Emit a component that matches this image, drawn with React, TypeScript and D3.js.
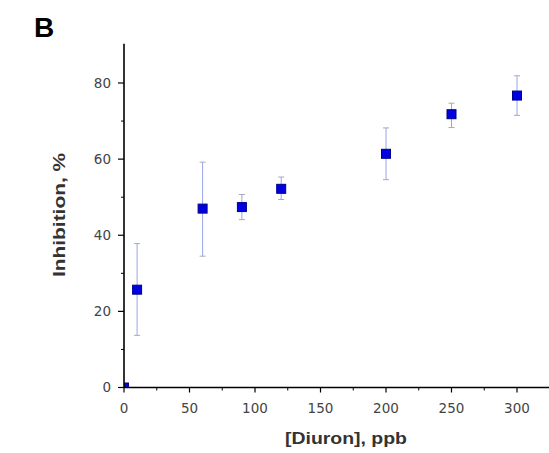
import React from "react";
import * as d3 from "d3";

const concentrations = [0, 10, 60, 90, 120, 200, 250, 300];
const inhibition = [0, 25.7, 47.0, 47.4, 52.2, 61.4, 71.8, 76.7];
const errLow = [0, 13.7, 34.5, 44.1, 49.4, 54.6, 68.3, 71.5];
const errHigh = [0, 37.8, 59.2, 50.7, 55.3, 68.2, 74.7, 81.9];
const xMajorTicks = [0, 50, 100, 150, 200, 250, 300];
const xMinorTicks = [25, 75, 125, 175, 225, 275, 325];
const yMajorTicks = [0, 20, 40, 60, 80];
const yMinorTicks = [10, 30, 50, 70];

const W = 549;
const H = 453;

export default function App() {
  const x = d3.scaleLinear().domain([0, 300]).range([124, 517]);
  const y = d3.scaleLinear().domain([0, 80]).range([387.5, 83]);
  const yTop = y(90.3);
  const font = "Arial, 'Liberation Sans', sans-serif";
  const tickFont = "'DejaVu Sans', Verdana, sans-serif";

  return (
    <svg
      width={W}
      height={H}
      style={{ position: "absolute", left: 0, top: 0, background: "#fff" }}
      fontFamily={font}
    >
      <defs>
        <clipPath id="plotClip">
          <rect x={124} y={0} width={W - 124} height={y(0)} />
        </clipPath>
      </defs>
      <rect width={W} height={H} fill="#fff" />
      <text x={34} y={37} fontSize={28} fontWeight="bold" fill="#000">
        B
      </text>

      {/* error bars */}
      {concentrations.map((c, i) =>
        i === 0 ? null : (
          <g key={"e" + i}>
            <line x1={x(c)} x2={x(c)} y1={y(errLow[i])} y2={y(errHigh[i])} stroke="#9aa4e6" strokeWidth={1} />
            <line x1={x(c) - 3} x2={x(c) + 3} y1={y(errLow[i])} y2={y(errLow[i])} stroke="#a8a8b8" strokeWidth={1} />
            <line x1={x(c) - 3} x2={x(c) + 3} y1={y(errHigh[i])} y2={y(errHigh[i])} stroke="#a8a8b8" strokeWidth={1} />
          </g>
        )
      )}

      {/* markers */}
      <g clipPath="url(#plotClip)">
        {concentrations.map((c, i) => (
          <rect
            key={"p" + i}
            x={x(c) - 4.5}
            y={y(inhibition[i]) - 4.5}
            width={9}
            height={9}
            fill="#0000e0"
            stroke="#00008b"
            strokeWidth={1}
          />
        ))}
      </g>

      {/* y axis */}
      <line x1={124} x2={124} y1={yTop} y2={y(0)} stroke="#000" strokeWidth={1.6} />
      {yMajorTicks.map((t) => (
        <g key={"ym" + t}>
          <line x1={118} x2={124} y1={y(t)} y2={y(t)} stroke="#000" strokeWidth={1.2} />
          <text x={111} y={y(t)} dy="0.36em" textAnchor="end" fontSize={13.5} fill="#444" fontFamily={tickFont}>
            {t}
          </text>
        </g>
      ))}
      {yMinorTicks.map((t) => (
        <line key={"yn" + t} x1={121} x2={124} y1={y(t)} y2={y(t)} stroke="#000" strokeWidth={1} />
      ))}

      {/* x axis */}
      <line x1={124} x2={W} y1={y(0)} y2={y(0)} stroke="#000" strokeWidth={1.6} />
      {xMajorTicks.map((t) => (
        <g key={"xm" + t}>
          <line x1={x(t)} x2={x(t)} y1={y(0)} y2={y(0) + 5} stroke="#000" strokeWidth={1.2} />
          <text x={x(t)} y={408} dy="0.36em" textAnchor="middle" fontSize={13.5} fill="#444" fontFamily={tickFont}>
            {t}
          </text>
        </g>
      ))}
      {xMinorTicks.map((t) => (
        <line key={"xn" + t} x1={x(t)} x2={x(t)} y1={y(0)} y2={y(0) + 3} stroke="#000" strokeWidth={1} />
      ))}

      <text
        x={346}
        y={438}
        dy="0.36em"
        textAnchor="middle"
        fontSize={16}
        fontWeight="bold"
        fill="#333"
        textLength={122}
        lengthAdjust="spacingAndGlyphs"
      >
        [Diuron], ppb
      </text>
      <text
        transform={`translate(59,215) rotate(-90)`}
        textAnchor="middle"
        dy="0.36em"
        fontSize={16}
        fontWeight="bold"
        fill="#333"
        textLength={124}
        lengthAdjust="spacingAndGlyphs"
      >
        Inhibition, %
      </text>
    </svg>
  );
}
